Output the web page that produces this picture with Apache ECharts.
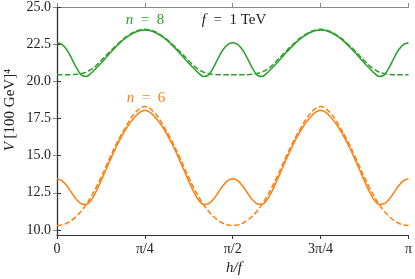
<!DOCTYPE html>
<html><head><meta charset="utf-8">
<script src="https://cdn.jsdelivr.net/npm/echarts@6/dist/echarts.min.js"></script>
<style>html,body{margin:0;padding:0;background:#fff}#c{width:415px;height:279px}</style>
</head><body><div id="c"></div>
<script>
// h/f in degrees of angle (0..180 corresponds to 0..pi)
const xs = [0,2.5,5,7.5,10,12.5,15,17.5,20,22.5,25,27.5,30,32.5,35,37.5,40,42.5,45,
  47.5,50,52.5,55,57.5,60,62.5,65,67.5,70,72.5,75,77.5,80,82.5,85,87.5,90,
  92.5,95,97.5,100,102.5,105,107.5,110,112.5,115,117.5,120,122.5,125,127.5,130,132.5,135,
  137.5,140,142.5,145,147.5,150,152.5,155,157.5,160,162.5,165,167.5,170,172.5,175,177.5,180];

const n6Dashed = [10.30,10.34,10.45,10.65,10.92,11.28,11.72,12.25,12.85,13.52,14.25,14.98,15.68,16.32,16.88,17.45,17.88,18.18,18.30,
  18.18,17.88,17.45,16.88,16.32,15.68,14.98,14.25,13.52,12.85,12.25,11.72,11.28,10.92,10.65,10.45,10.34,10.30,
  10.34,10.45,10.65,10.92,11.28,11.72,12.25,12.85,13.52,14.25,14.98,15.68,16.32,16.88,17.45,17.88,18.18,18.30,
  18.18,17.88,17.45,16.88,16.32,15.68,14.98,14.25,13.52,12.85,12.25,11.72,11.28,10.92,10.65,10.45,10.34,10.30];

const n6Solid = [13.45,13.32,12.97,12.50,12.05,11.76,11.72,12.02,12.58,13.28,14.03,14.78,15.50,16.15,16.72,17.22,17.62,17.92,18.05,
  17.92,17.62,17.22,16.72,16.15,15.50,14.78,14.03,13.28,12.58,12.02,11.72,11.76,12.05,12.50,12.97,13.32,13.45,
  13.32,12.97,12.50,12.05,11.76,11.72,12.02,12.58,13.28,14.03,14.78,15.50,16.15,16.72,17.22,17.62,17.92,18.05,
  17.92,17.62,17.22,16.72,16.15,15.50,14.78,14.03,13.28,12.58,12.02,11.72,11.76,12.05,12.50,12.97,13.32,13.45];

const n8Dashed = [20.45,20.45,20.45,20.45,20.47,20.52,20.62,20.80,21.05,21.38,21.72,22.06,22.38,22.68,22.95,23.17,23.35,23.46,23.50,
  23.46,23.35,23.17,22.95,22.68,22.38,22.06,21.72,21.38,21.05,20.80,20.62,20.52,20.47,20.45,20.45,20.45,20.45,
  20.45,20.45,20.45,20.47,20.52,20.62,20.80,21.05,21.38,21.72,22.06,22.38,22.68,22.95,23.17,23.35,23.46,23.50,
  23.46,23.35,23.17,22.95,22.68,22.38,22.06,21.72,21.38,21.05,20.80,20.62,20.52,20.47,20.45,20.45,20.45,20.45];

const n8Solid = [22.60,22.48,22.12,21.55,20.90,20.42,20.33,20.55,20.88,21.22,21.58,21.95,22.30,22.62,22.90,23.12,23.30,23.42,23.46,
  23.42,23.30,23.12,22.90,22.62,22.30,21.95,21.58,21.22,20.88,20.55,20.33,20.42,20.90,21.55,22.12,22.48,22.60,
  22.48,22.12,21.55,20.90,20.42,20.33,20.55,20.88,21.22,21.58,21.95,22.30,22.62,22.90,23.12,23.30,23.42,23.46,
  23.42,23.30,23.12,22.90,22.62,22.30,21.95,21.58,21.22,20.88,20.55,20.33,20.42,20.90,21.55,22.12,22.48,22.60];

const xTickValues = [0,45,90,135,180];
const xTickLabels = ['0','π/4','π/2','3π/4','π'];
const yTickValues = [10,12.5,15,17.5,20,22.5,25];
const yTickLabels = ['10.0','12.5','15.0','17.5','20.0','22.5','25.0'];

const GREEN = '#2ca02c', ORANGE = '#ff7f0e';
const FONT = 'Liberation Serif';
const zip = a => xs.map((x,i)=>[x,a[i]]);

const chart = echarts.init(document.getElementById('c'), null, {renderer:'canvas'});
const baseX = {type:'value', min:0, max:180, interval:45, splitLine:{show:false}};
const baseY = {type:'value', min:9.66, max:25, splitLine:{show:false}};
function lineSeries(data,color,dashed){
  return {type:'line', data:zip(data), showSymbol:false, smooth:0.4, clip:true, z: dashed?3:2,
    lineStyle:{color, width:1.5, type: dashed?[5.5,2.4]:'solid'}};
}
const SP = '\u2002';
chart.setOption({
  animation:false,
  grid:{left:57, right:5, top:6, bottom:44},
  xAxis:[
    Object.assign({}, baseX, {position:'bottom',
      axisLine:{lineStyle:{color:'#333', width:1.2}},
      axisTick:{inside:false, length:4, lineStyle:{color:'#333'}},
      axisLabel:{color:'#222', fontFamily:FONT, fontSize:14, margin:7,
        formatter:v=>{const i=xTickValues.indexOf(v); return i<0?'':xTickLabels[i];}}}),
    Object.assign({}, baseX, {position:'top',
      axisLine:{lineStyle:{color:'#888', width:1.2}},
      axisTick:{inside:false, length:4, lineStyle:{color:'#888'}},
      axisLabel:{show:false}})
  ],
  yAxis:[
    Object.assign({}, baseY, {position:'left',
      axisLine:{show:true, lineStyle:{color:'#888', width:1.2}},
      axisTick:{show:true, inside:false, length:4, customValues:yTickValues, lineStyle:{color:'#888'}},
      axisLabel:{color:'#222', fontFamily:FONT, fontSize:14, margin:6, customValues:yTickValues,
        formatter:v=>{const i=yTickValues.indexOf(v); return i<0?'':yTickLabels[i];}}}),
    Object.assign({}, baseY, {position:'right',
      axisLine:{show:true, lineStyle:{color:'#333', width:1.2}},
      axisTick:{show:true, inside:false, length:4, customValues:yTickValues, lineStyle:{color:'#333'}},
      axisLabel:{show:false}})
  ],
  series:[
    lineSeries(n8Solid, GREEN, false),
    lineSeries(n8Dashed, GREEN, true),
    lineSeries(n6Solid, ORANGE, false),
    lineSeries(n6Dashed, ORANGE, true)
  ],
  graphic:[
    {type:'text', x:145, y:20, style:{text:'{i|n}'+SP+'='+SP+'8', fill:GREEN, font:'15px '+FONT, align:'center', verticalAlign:'middle',
      rich:{i:{fontStyle:'italic', fontFamily:FONT, fontSize:15, fill:GREEN}}}},
    {type:'text', x:146, y:98, style:{text:'{i|n}'+SP+'='+SP+'6', fill:ORANGE, font:'15px '+FONT, align:'center', verticalAlign:'middle',
      rich:{i:{fontStyle:'italic', fontFamily:FONT, fontSize:15, fill:ORANGE}}}},
    {type:'text', x:234, y:20, style:{text:'{i|f}'+SP+'='+SP+'1 TeV', fill:'#222', font:'15px '+FONT, align:'center', verticalAlign:'middle',
      rich:{i:{fontStyle:'italic', fontFamily:FONT, fontSize:15, fill:'#222'}}}},
    {type:'text', x:234, y:268, style:{text:'h/f', fill:'#222', font:'italic 15px '+FONT, align:'center', verticalAlign:'middle'}},
    {type:'text', x:10, y:110, rotation:Math.PI/2, style:{text:'{i|V} [100 GeV]⁴', fill:'#222', font:'15px '+FONT, align:'center', verticalAlign:'middle',
      rich:{i:{fontStyle:'italic', fontFamily:FONT, fontSize:15, fill:'#222'}}}}
  ]
});
</script></body></html>
